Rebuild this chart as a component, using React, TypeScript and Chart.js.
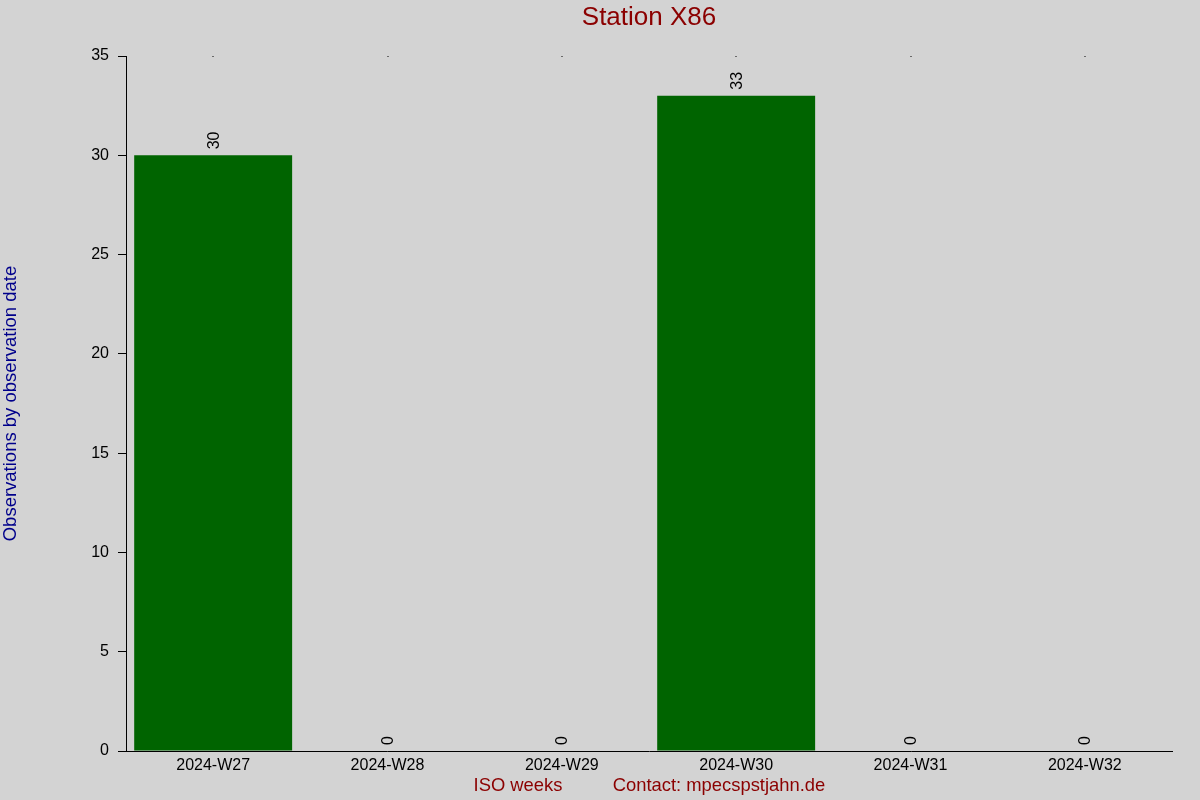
import React, { useEffect, useRef } from "react";
import { Chart, registerables } from "chart.js";

Chart.register(...registerables);

const categories = ["2024-W27", "2024-W28", "2024-W29", "2024-W30", "2024-W31", "2024-W32"];
const observations = [30, 0, 0, 33, 0, 0];
const yTicks = [0, 5, 10, 15, 20, 25, 30, 35];

const chartTitle = "Station X86";
const yTitle = "Observations by observation date";
const xTitle = "ISO weeks";
const contactText = "Contact: mpecspstjahn.de";

const FONT = "'Liberation Sans', Arial, sans-serif";

const textPlugin = {
  id: "customText",
  afterDatasetsDraw(chart: any) {
    const ctx = chart.ctx;
    const area = chart.chartArea;
    const xs = chart.scales.x;
    const ys = chart.scales.y;
    ctx.save();
    // title
    ctx.fillStyle = "#8B0000";
    ctx.font = `26px ${FONT}`;
    ctx.textAlign = "center";
    ctx.textBaseline = "middle";
    ctx.fillText(chartTitle, (area.left + area.right) / 2, 18);
    // x titles
    ctx.font = `18.4px ${FONT}`;
    ctx.fillText(xTitle, 518, 786);
    ctx.fillText(contactText, 719, 786);
    // y title
    ctx.save();
    ctx.fillStyle = "#00008B";
    ctx.font = `18.5px ${FONT}`;
    ctx.translate(11, (area.top + area.bottom) / 2);
    ctx.rotate(-Math.PI / 2);
    ctx.fillText(yTitle, 0, 0);
    ctx.restore();
    // top dots
    ctx.fillStyle = "#000";
    categories.forEach((_, i) => {
      const x = xs.getPixelForValue(i);
      ctx.fillRect(Math.round(x) - 0.5, area.top, 1, 1);
    });
    // data labels
    ctx.font = `16px ${FONT}`;
    ctx.fillStyle = "#000";
    const meta = chart.getDatasetMeta(0);
    meta.data.forEach((bar: any, i: number) => {
      const v = observations[i];
      const yTop = ys.getPixelForValue(v);
      ctx.save();
      ctx.translate(bar.x + 1, yTop - 6);
      ctx.rotate(-Math.PI / 2);
      ctx.textAlign = "left";
      ctx.textBaseline = "middle";
      ctx.fillText(String(v), 0, 0);
      ctx.restore();
    });
    ctx.restore();
  },
};

export default function App() {
  const ref = useRef<HTMLCanvasElement | null>(null);
  useEffect(() => {
    document.body.style.margin = "0";
    const canvas = ref.current!;
    const chart = new Chart(canvas, {
      type: "bar",
      data: {
        labels: categories,
        datasets: [
          {
            data: observations,
            backgroundColor: "#006400",
            borderWidth: 0,
            barPercentage: 0.906,
            categoryPercentage: 1,
          },
        ],
      },
      options: {
        responsive: false,
        animation: false,
        devicePixelRatio: 1,
        layout: { padding: { top: 56, right: 28, left: 0, bottom: 0 } },
        plugins: {
          legend: { display: false },
          title: { display: false },
          tooltip: { enabled: false },
        },
        scales: {
          x: {
            grid: { display: false, drawTicks: false },
            border: { display: true, color: "#000", width: 1 },
            ticks: { color: "#000", font: { size: 16, family: FONT }, padding: 5, maxRotation: 0, autoSkip: false },
            afterFit(scale: any) {
              scale.height = 49;
            },
          },
          y: {
            min: 0,
            max: 35,
            afterBuildTicks(scale: any) {
              scale.ticks = yTicks.map((v) => ({ value: v }));
            },
            grid: { drawOnChartArea: false, drawTicks: true, tickLength: 8, color: "#000" },
            border: { display: true, color: "#000", width: 1 },
            ticks: { color: "#000", font: { size: 16, family: FONT }, padding: 9 },
            afterFit(scale: any) {
              scale.width = 126;
            },
          },
        },
      },
      plugins: [textPlugin],
    });
    return () => chart.destroy();
  }, []);
  return (
    <div style={{ position: "absolute", left: 0, top: 0, width: 1200, height: 800, background: "#d3d3d3" }}>
      <canvas ref={ref} width={1200} height={800} style={{ width: 1200, height: 800, display: "block" }} />
    </div>
  );
}
